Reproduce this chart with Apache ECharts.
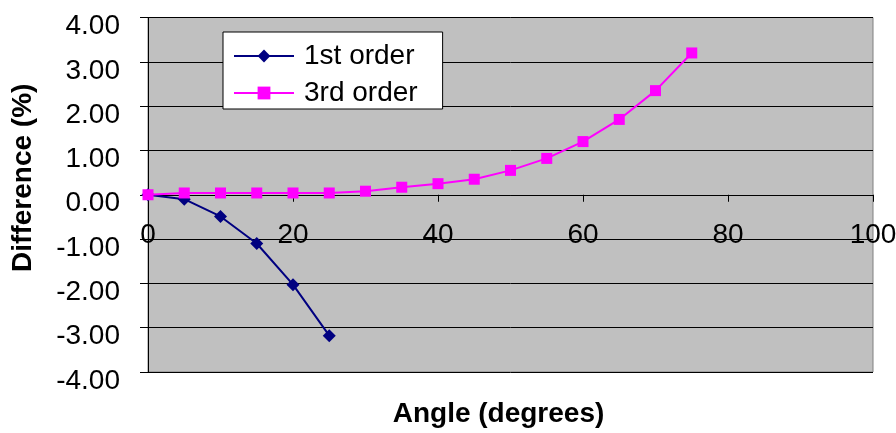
<!DOCTYPE html>
<html>
<head>
<meta charset="utf-8">
<script src="https://cdn.jsdelivr.net/npm/echarts@6/dist/echarts.min.js"></script>
<style>html,body{margin:0;padding:0;background:#fff}#c{width:896px;height:433px}</style>
</head>
<body>
<div id="c"></div>
<script>
const angles1 = [0, 5, 10, 15, 20, 25];
const firstOrder = [0, -0.1, -0.49, -1.1, -2.03, -3.18];
const angles3 = [0, 5, 10, 15, 20, 25, 30, 35, 40, 45, 50, 55, 60, 65, 70, 75];
const thirdOrder = [0, 0.04, 0.04, 0.04, 0.04, 0.04, 0.08, 0.17, 0.25, 0.35, 0.55, 0.82, 1.2, 1.7, 2.35, 3.2];
const seriesNames = ['1st order', '3rd order'];
const xTitle = 'Angle (degrees)';
const yTitle = 'Difference (%)';

const FONT = '"Liberation Sans", Arial, sans-serif';
const GRID_TOP = 17.5, GRID_BOTTOM = 61, H = 433;
const plotH = H - GRID_TOP - GRID_BOTTOM;
const yMin = -4, yMax = 4;
// place the x axis on the zero line of the y axis
const xOffset = -plotH * (0 - yMin) / (yMax - yMin);

const chart = echarts.init(document.getElementById('c'), null, {renderer: 'canvas'});
chart.setOption({
  animation: false,
  backgroundColor: '#ffffff',
  grid: {
    left: 148, right: 23, top: GRID_TOP, bottom: GRID_BOTTOM,
    show: true, backgroundColor: '#c0c0c0', borderColor: '#808080', borderWidth: 1,
    outerBoundsMode: 'none', containLabel: false
  },
  legend: {
    orient: 'vertical', left: 223, top: 32,
    padding: [10, 25, 2, 10], itemGap: 9, itemWidth: 60, itemHeight: 16,
    backgroundColor: '#ffffff', borderColor: '#000000', borderWidth: 1,
    textStyle: {fontFamily: FONT, fontSize: 28, color: '#000', padding: [0, 0, 0, 5]},
    data: seriesNames
  },
  xAxis: {
    type: 'value', min: 0, max: 100, interval: 20, position: 'bottom', offset: xOffset,
    name: xTitle, nameLocation: 'middle', nameGap: 206, nameMoveOverlap: false,
    nameTextStyle: {fontFamily: FONT, fontSize: 28, fontWeight: 'bold', color: '#000', padding: [0, 24, 0, 0]},
    axisLine: {onZero: false, lineStyle: {color: '#000', width: 1}},
    axisTick: {show: true, inside: false, length: 7, lineStyle: {color: '#000'}},
    axisLabel: {fontFamily: FONT, fontSize: 28, color: '#000', margin: 27},
    splitLine: {show: false}
  },
  yAxis: {
    type: 'value', min: yMin, max: yMax, interval: 1,
    name: yTitle, nameLocation: 'middle', nameRotate: 90, nameGap: 111,
    nameTextStyle: {fontFamily: FONT, fontSize: 28, fontWeight: 'bold', color: '#000', padding: [0, 0, 0, 34]},
    axisLine: {show: true, lineStyle: {color: '#000', width: 1}},
    axisTick: {show: true, inside: false, length: 8, lineStyle: {color: '#000'}},
    axisLabel: {fontFamily: FONT, fontSize: 28, color: '#000', margin: 28,
      verticalAlign: 'top', lineHeight: 18,
      formatter: v => v.toFixed(2)},
    splitLine: {show: true, lineStyle: {color: '#000', width: 1}}
  },
  series: [
    {
      name: seriesNames[0], type: 'line',
      data: angles1.map((a, i) => [a, firstOrder[i]]),
      symbol: 'diamond', symbolSize: 13,
      lineStyle: {color: '#000080', width: 2},
      itemStyle: {color: '#000080'},
      z: 3
    },
    {
      name: seriesNames[1], type: 'line',
      data: angles3.map((a, i) => [a, thirdOrder[i]]),
      symbol: 'rect', symbolSize: 11,
      lineStyle: {color: '#ff00ff', width: 2},
      itemStyle: {color: '#ff00ff'},
      z: 4
    }
  ]
});
</script>
</body>
</html>
